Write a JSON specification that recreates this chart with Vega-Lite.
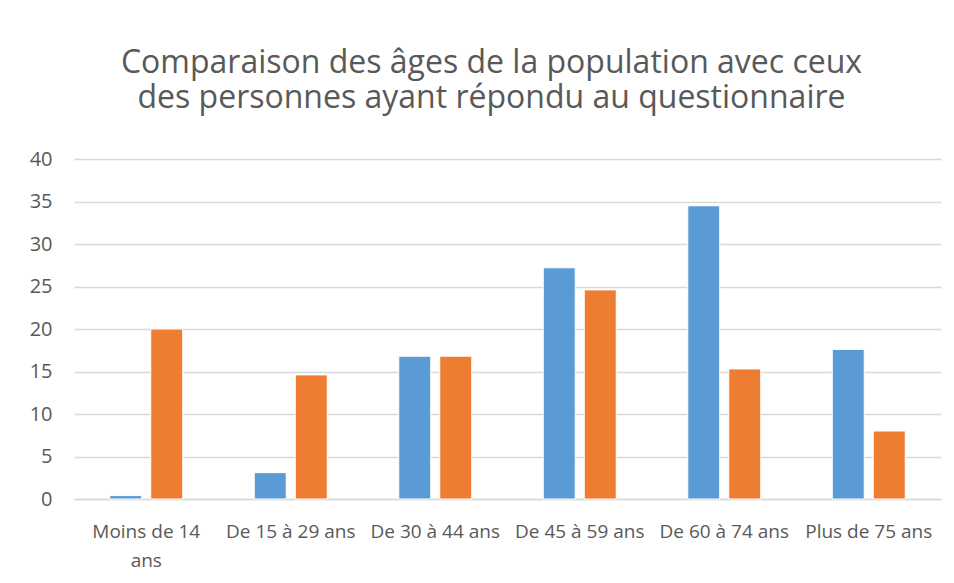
{
  "$schema": "https://vega.github.io/schema/vega-lite/v6.json",
  "autosize": "none",
  "width": 867,
  "height": 340,
  "padding": {"left": 74, "top": 159, "right": 13, "bottom": 84},
  "background": "white",
  "title": {
    "text": ["Comparaison des âges de la population avec ceux", "des personnes ayant répondu au questionnaire"],
    "font": "Open Sans",
    "fontSize": 32,
    "fontWeight": "normal",
    "color": "#595959",
    "anchor": "middle",
    "dx": -16,
    "lineHeight": 35,
    "offset": 34
  },
  "data": {
    "values": [
      {"age": "Moins de 14 ans", "serie": "Personnes ayant répondu", "valeur": 0.4},
      {"age": "Moins de 14 ans", "serie": "Population", "valeur": 20.0},
      {"age": "De 15 à 29 ans", "serie": "Personnes ayant répondu", "valeur": 3.1},
      {"age": "De 15 à 29 ans", "serie": "Population", "valeur": 14.6},
      {"age": "De 30 à 44 ans", "serie": "Personnes ayant répondu", "valeur": 16.8},
      {"age": "De 30 à 44 ans", "serie": "Population", "valeur": 16.8},
      {"age": "De 45 à 59 ans", "serie": "Personnes ayant répondu", "valeur": 27.2},
      {"age": "De 45 à 59 ans", "serie": "Population", "valeur": 24.6},
      {"age": "De 60 à 74 ans", "serie": "Personnes ayant répondu", "valeur": 34.5},
      {"age": "De 60 à 74 ans", "serie": "Population", "valeur": 15.3},
      {"age": "Plus de 75 ans", "serie": "Personnes ayant répondu", "valeur": 17.6},
      {"age": "Plus de 75 ans", "serie": "Population", "valeur": 8.0}
    ]
  },
  "mark": {"type": "bar", "stroke": "white", "strokeWidth": 1},
  "encoding": {
    "x": {
      "field": "age",
      "type": "nominal",
      "sort": null,
      "scale": {"paddingInner": 0.495, "paddingOuter": 0.2475},
      "axis": {
        "title": null,
        "labelAngle": 0,
        "labelFont": "Open Sans",
        "labelFontSize": 19,
        "labelColor": "#595959",
        "labelPadding": 38,
        "labelLimit": 200,
        "labelBaseline": "alphabetic",
        "ticks": false,
        "domainColor": "#d9d9d9",
        "domainWidth": 1.5,
        "labelLineHeight": 29,
        "labelExpr": "datum.label == 'Moins de 14 ans' ? ['Moins de 14', 'ans'] : datum.label"
      }
    },
    "xOffset": {"field": "serie", "type": "nominal", "sort": null, "scale": {"paddingInner": 0.22}},
    "y": {
      "field": "valeur",
      "type": "quantitative",
      "scale": {"domain": [0, 40]},
      "axis": {
        "title": null,
        "values": [0, 5, 10, 15, 20, 25, 30, 35, 40],
        "labelFont": "Open Sans",
        "labelFontSize": 20,
        "labelColor": "#595959",
        "labelPadding": 22,
        "ticks": false,
        "domain": false,
        "gridColor": "#d9d9d9",
        "gridWidth": 1.5
      }
    },
    "color": {
      "field": "serie",
      "type": "nominal",
      "sort": null,
      "scale": {"range": ["#5B9BD5", "#ED7D31"]},
      "legend": null
    }
  },
  "config": {"view": {"stroke": null}}
}
